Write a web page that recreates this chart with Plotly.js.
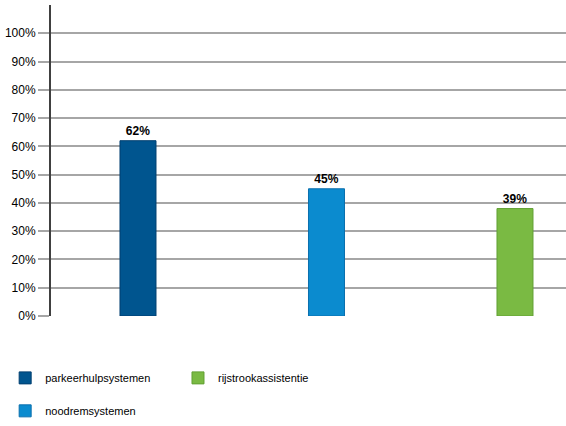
<!DOCTYPE html>
<html>
<head>
<meta charset="utf-8">
<script src="https://cdn.plot.ly/plotly-3.0.1.min.js"></script>
<style>html,body{margin:0;padding:0;background:#fff;}#chart{width:566px;height:426px;}</style>
</head>
<body>
<div id="chart"></div>
<script>
const categories = ["parkeerhulpsystemen", "noodremsystemen", "rijstrookassistentie"];
const values = [62, 45, 38];
const valueLabels = ["62%", "45%", "39%"];
const tickValues = [0, 10, 20, 30, 40, 50, 60, 70, 80, 90, 100];
const tickLabels = ["0%", "10%", "20%", "30%", "40%", "50%", "60%", "70%", "80%", "90%", "100%"];

const fills = ["#00558f", "#0b8bcf", "#7aba43"];
const borders = ["#003f70", "#0a6fae", "#62a034"];
const legendIds = ["legend", "legend2", "legend3"];

const FONT = "'Liberation Sans', Arial, sans-serif";

const data = categories.map((c, i) => ({
  type: "bar",
  name: c,
  x: [c],
  y: [values[i]],
  text: [valueLabels[i]],
  textposition: "outside",
  texttemplate: "<b>%{text}</b>",
  textfont: {family: FONT, size: 12, color: "#000"},
  cliponaxis: false,
  width: 0.191,
  marker: {color: fills[i], line: {color: borders[i], width: 1}},
  legend: legendIds[i],
  hoverinfo: "none"
}));

const legendBase = {
  orientation: "v",
  font: {family: FONT, size: 11, color: "#000"},
  bgcolor: "rgba(0,0,0,0)",
  xanchor: "left",
  yanchor: "middle"
};

const layout = {
  width: 566,
  height: 426,
  margin: {l: 51, r: 0, t: 5, b: 110},
  paper_bgcolor: "#fff",
  plot_bgcolor: "#fff",
  barmode: "overlay",
  font: {family: FONT, size: 12, color: "#000"},
  xaxis: {
    type: "category",
    categoryorder: "array",
    categoryarray: categories,
    range: [-0.4615, 2.2706],
    showticklabels: false,
    showgrid: false,
    zeroline: false,
    showline: false,
    ticks: "",
    fixedrange: true
  },
  yaxis: {
    range: [0, 110],
    tickvals: tickValues,
    ticktext: tickLabels,
    showgrid: true,
    gridcolor: "#a6a6a6",
    gridwidth: 2,
    zeroline: false,
    showline: true,
    linecolor: "#404040",
    linewidth: 2,
    ticks: "outside",
    ticklen: 11,
    tickwidth: 2,
    tickcolor: "#a6a6a6",
    tickfont: {family: FONT, size: 12, color: "#000"},
    fixedrange: true
  },
  shapes: [{
    type: "line",
    layer: "below",
    xref: "paper",
    yref: "y",
    x0: -0.021,
    x1: 1,
    y0: 40,
    y1: 40,
    line: {color: "#000", width: 1}
  }],
  legend: Object.assign({}, legendBase, {x: -0.089, y: -0.199}),
  legend2: Object.assign({}, legendBase, {x: -0.089, y: -0.305}),
  legend3: Object.assign({}, legendBase, {x: 0.2466, y: -0.199}),
  showlegend: true
};

Plotly.newPlot("chart", data, layout, {displayModeBar: false, staticPlot: true});
</script>
</body>
</html>
